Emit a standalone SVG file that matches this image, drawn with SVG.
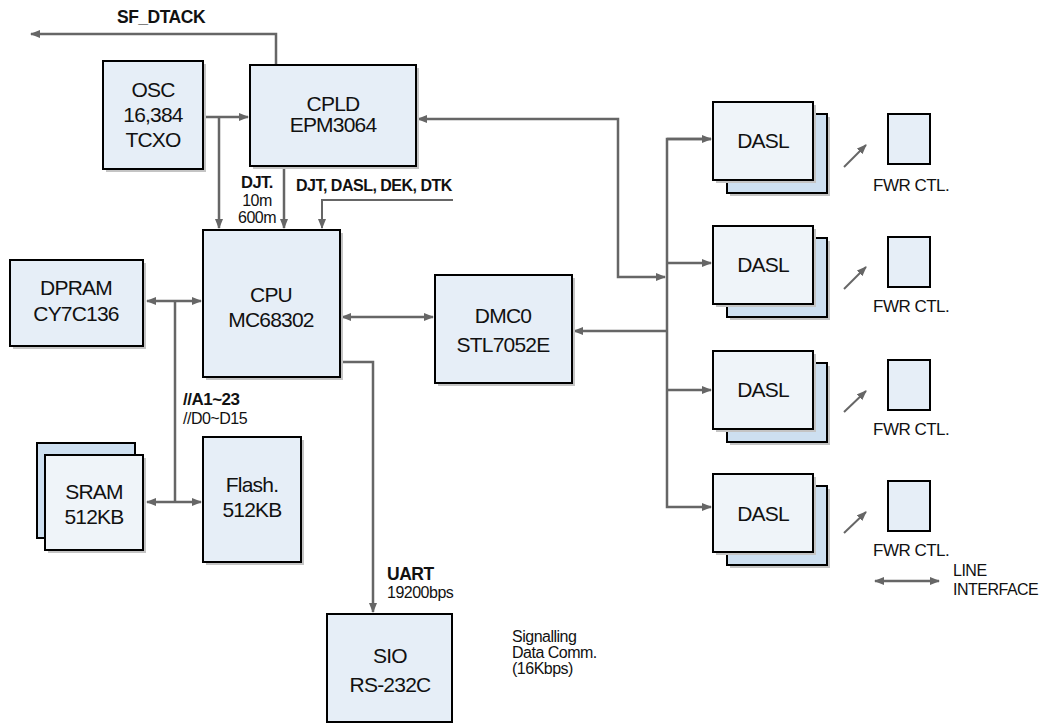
<svg xmlns="http://www.w3.org/2000/svg" width="1041" height="724" viewBox="0 0 1041 724">
  <style>
    .box { fill: #e6eef7; stroke: #000; stroke-width: 2; }
    .front { fill: #eff4f9; stroke: #000; stroke-width: 2; }
    .back { fill: #cddff0; stroke: #000; stroke-width: 2; }
    .shadow { fill: #c4c4c4; }
    .lbl { font-family: "Liberation Sans", Arial, sans-serif; font-size: 21px; letter-spacing: -0.8px; fill: #111; text-anchor: middle; }
    .bold { font-family: "Liberation Sans", Arial, sans-serif; font-weight: bold; letter-spacing: -0.5px; fill: #111; }
    .small { font-family: "Liberation Sans", Arial, sans-serif; letter-spacing: -0.5px; fill: #111; }
    .wire { fill: none; stroke: #666; stroke-width: 2.5; }
    .thin { fill: none; stroke: #666; stroke-width: 2; }
  </style>
  <defs>
    <marker id="ah" viewBox="0 0 10 8" refX="9" refY="4" markerWidth="10" markerHeight="8" markerUnits="userSpaceOnUse" orient="auto-start-reverse">
      <path d="M0,0 L10,4 L0,8 z" fill="#666"/>
    </marker>
  </defs>

  <!-- connectors -->
  <g id="connectors">
    <!-- SF_DTACK out of CPLD -->
    <path class="wire" d="M276,65 V34 H31" marker-end="url(#ah)"/>
    <!-- oscillator clock to CPLD and CPU -->
    <path class="wire" d="M205,117 H248" marker-end="url(#ah)"/>
    <path class="wire" d="M219,117 V228" marker-end="url(#ah)"/>
    <!-- CPLD to CPU -->
    <path class="wire" d="M284,168 V228" marker-end="url(#ah)"/>
    <!-- control strobes into CPU -->
    <path class="thin" d="M453,200 H322 V228" marker-end="url(#ah)"/>
    <!-- memory bus -->
    <path class="wire" d="M175,301 V502"/>
    <path class="wire" d="M147,301 H201" marker-start="url(#ah)" marker-end="url(#ah)"/>
    <path class="wire" d="M147,502 H201" marker-start="url(#ah)" marker-end="url(#ah)"/>
    <!-- CPU to SIO (UART) -->
    <path class="wire" d="M342,362 H373 V612" marker-end="url(#ah)"/>
    <!-- CPU to DMC0 -->
    <path class="wire" d="M342,317 H433" marker-start="url(#ah)" marker-end="url(#ah)"/>
    <!-- line bus to DMC0 -->
    <path class="wire" d="M667,331 H574" marker-end="url(#ah)"/>
    <!-- CPLD to line bus -->
    <path class="wire" d="M418,119 H618 V277 H665" marker-start="url(#ah)" marker-end="url(#ah)"/>
    <!-- line bus and DASL branches -->
    <path class="wire" d="M711,139 H667 V507 H711" marker-end="url(#ah)"/>
    <path class="wire" d="M667,139 H711" marker-end="url(#ah)"/>
    <path class="wire" d="M667,263 H711" marker-end="url(#ah)"/>
    <path class="wire" d="M667,390 H711" marker-end="url(#ah)"/>
    <!-- DASL to FWR CTL -->
    <path class="thin" d="M844,167 L866,145" marker-end="url(#ah)"/>
    <path class="thin" d="M844,289 L866,267" marker-end="url(#ah)"/>
    <path class="thin" d="M844,412 L866,391" marker-end="url(#ah)"/>
    <path class="thin" d="M844,533 L866,512" marker-end="url(#ah)"/>
    <!-- legend arrow -->
    <path class="wire" d="M875,581 H939" marker-start="url(#ah)" marker-end="url(#ah)"/>
  </g>

  <!-- free labels -->
  <text class="bold" x="117" y="23" font-size="17.5" letter-spacing="-0.3">SF_DTACK</text>
  <text class="bold" x="257" y="188" font-size="16.5" text-anchor="middle">DJT.</text>
  <text class="small" x="257" y="206" font-size="16" text-anchor="middle">10m</text>
  <text class="small" x="257" y="223" font-size="16" text-anchor="middle">600m</text>
  <text class="bold" x="296" y="191" font-size="16">DJT, DASL, DEK, DTK</text>
  <text class="bold" x="183" y="405" font-size="17" letter-spacing="-0.3">//A1~23</text>
  <text class="small" x="183" y="424" font-size="16">//D0~D15</text>
  <text class="bold" x="387" y="580" font-size="17.5" letter-spacing="-0.3">UART</text>
  <text class="small" x="387" y="598" font-size="16" letter-spacing="-0.8">19200bps</text>
  <text class="small" x="512" y="642" font-size="16">Signalling</text>
  <text class="small" x="512" y="658" font-size="16">Data Comm.</text>
  <text class="small" x="512" y="674" font-size="16">(16Kbps)</text>
  <text class="small" x="953" y="576" font-size="16">LINE</text>
  <text class="small" x="953" y="595" font-size="16">INTERFACE</text>

  <g id="osc">
    <rect class="shadow" x="106" y="64" width="100" height="108"/>
    <rect class="box" x="103" y="61" width="100" height="108"/>
    <text class="lbl" x="153" y="97">OSC</text>
    <text class="lbl" x="153" y="122">16,384</text>
    <text class="lbl" x="153" y="147">TCXO</text>
  </g>

  <g id="cpld">
    <rect class="shadow" x="253" y="68" width="166" height="101"/>
    <rect class="box" x="250" y="65" width="166" height="101"/>
    <text class="lbl" x="333" y="111">CPLD</text>
    <text class="lbl" x="333" y="132">EPM3064</text>
  </g>

  <g id="cpu">
    <rect class="shadow" x="206" y="233" width="137" height="147"/>
    <rect class="box" x="203" y="230" width="137" height="147"/>
    <text class="lbl" x="271" y="302">CPU</text>
    <text class="lbl" x="271" y="327">MC68302</text>
  </g>

  <g id="dpram">
    <rect class="shadow" x="13" y="263" width="133" height="86"/>
    <rect class="box" x="10" y="260" width="133" height="86"/>
    <text class="lbl" x="76" y="295">DPRAM</text>
    <text class="lbl" x="76" y="321">CY7C136</text>
  </g>

  <g id="sram">
    <rect class="back" x="37" y="443" width="98" height="95"/>
    <rect class="shadow" x="48" y="458" width="98" height="95"/>
    <rect class="front" x="45" y="455" width="98" height="95"/>
    <text class="lbl" x="94" y="499">SRAM</text>
    <text class="lbl" x="94" y="524">512KB</text>
  </g>

  <g id="flash">
    <rect class="shadow" x="206" y="440" width="98" height="125"/>
    <rect class="box" x="203" y="437" width="98" height="125"/>
    <text class="lbl" x="252" y="492">Flash.</text>
    <text class="lbl" x="252" y="517">512KB</text>
  </g>

  <g id="dmc0">
    <rect class="shadow" x="438" y="278" width="137" height="108"/>
    <rect class="box" x="435" y="275" width="137" height="108"/>
    <text class="lbl" x="503" y="323">DMC0</text>
    <text class="lbl" x="503" y="352">STL7052E</text>
  </g>

  <g id="sio">
    <rect class="box" x="327" y="614" width="125" height="108"/>
    <text class="lbl" x="390" y="663">SIO</text>
    <text class="lbl" x="390" y="692">RS-232C</text>
  </g>

  <g id="dasl1">
    <rect class="shadow" x="730" y="117" width="100" height="79"/>
    <rect class="back" x="727" y="114" width="100" height="79"/>
    <rect class="shadow" x="716" y="105" width="100" height="78"/>
    <rect class="front" x="713" y="102" width="100" height="78"/>
    <text class="lbl" x="763" y="148">DASL</text>
  </g>
  <g id="dasl2">
    <rect class="shadow" x="730" y="241" width="100" height="79"/>
    <rect class="back" x="727" y="238" width="100" height="79"/>
    <rect class="shadow" x="716" y="229" width="100" height="78"/>
    <rect class="front" x="713" y="226" width="100" height="78"/>
    <text class="lbl" x="763" y="272">DASL</text>
  </g>
  <g id="dasl3">
    <rect class="shadow" x="730" y="366" width="100" height="79"/>
    <rect class="back" x="727" y="363" width="100" height="79"/>
    <rect class="shadow" x="716" y="354" width="100" height="78"/>
    <rect class="front" x="713" y="351" width="100" height="78"/>
    <text class="lbl" x="763" y="397">DASL</text>
  </g>
  <g id="dasl4">
    <rect class="shadow" x="730" y="489" width="100" height="79"/>
    <rect class="back" x="727" y="486" width="100" height="79"/>
    <rect class="shadow" x="716" y="477" width="100" height="78"/>
    <rect class="front" x="713" y="474" width="100" height="78"/>
    <text class="lbl" x="763" y="521">DASL</text>
  </g>

  <g id="fwr1">
    <rect class="box" x="888" y="114" width="42" height="50" stroke-width="2.5"/>
    <text class="small" x="873" y="191" font-size="17" letter-spacing="-0.3">FWR CTL.</text>
  </g>
  <g id="fwr2">
    <rect class="box" x="888" y="237" width="42" height="50" stroke-width="2.5"/>
    <text class="small" x="873" y="312" font-size="17" letter-spacing="-0.3">FWR CTL.</text>
  </g>
  <g id="fwr3">
    <rect class="box" x="888" y="360" width="42" height="50" stroke-width="2.5"/>
    <text class="small" x="873" y="435" font-size="17" letter-spacing="-0.3">FWR CTL.</text>
  </g>
  <g id="fwr4">
    <rect class="box" x="888" y="481" width="42" height="50" stroke-width="2.5"/>
    <text class="small" x="873" y="556" font-size="17" letter-spacing="-0.3">FWR CTL.</text>
  </g>
</svg>
